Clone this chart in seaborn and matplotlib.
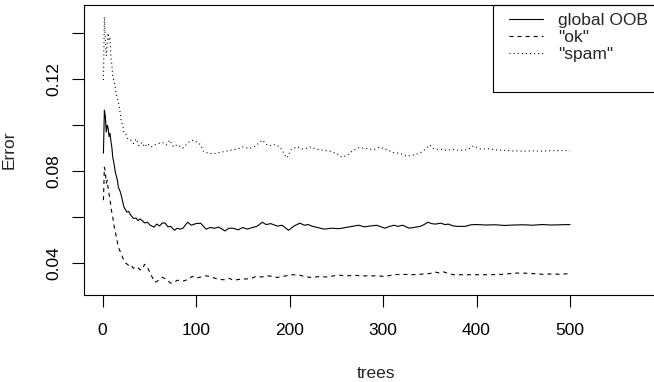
import numpy as np
import pandas as pd
import matplotlib
matplotlib.use("Agg")
import matplotlib.pyplot as plt
from matplotlib.patches import Rectangle
import seaborn as sns

# ---- data ----
oob_trees = [1, 2, 3, 4, 5, 6, 7, 8, 9, 10, 11, 12, 14, 16, 17, 19, 20, 22, 23, 25, 26, 28, 30, 33, 36, 38, 40, 42, 45, 48,
             51, 55, 58, 61, 64, 67, 70, 73, 77, 80, 83, 86, 91, 95, 100, 105, 108, 111, 115, 120, 124, 128, 131, 135, 140,
             145, 150, 155, 160, 165, 171, 175, 180, 187, 192, 199, 205, 211, 216, 220, 224, 230, 237, 245, 253, 260, 267,
             274, 280, 287, 293, 298, 302, 307, 312, 316, 321, 328, 334, 340, 344, 348, 352, 356, 362, 366, 370, 375, 380,
             388, 394, 400, 410, 420, 430, 440, 450, 460, 470, 480, 490, 500]
oob_err = [0.0878, 0.1065, 0.104, 0.097, 0.100, 0.0987, 0.095, 0.0965, 0.093, 0.0904, 0.086, 0.084, 0.079, 0.076, 0.073,
           0.071, 0.0696, 0.066, 0.0643, 0.063, 0.0622, 0.0625, 0.061, 0.0595, 0.0596, 0.0585, 0.0592, 0.0587, 0.0575,
           0.0578, 0.0565, 0.0557, 0.057, 0.0562, 0.0575, 0.0574, 0.0558, 0.056, 0.0543, 0.0552, 0.0548, 0.0552, 0.0578,
           0.0565, 0.0572, 0.0574, 0.056, 0.0548, 0.0555, 0.0552, 0.0557, 0.0548, 0.054, 0.0552, 0.0552, 0.0545, 0.0555,
           0.0548, 0.0555, 0.056, 0.0578, 0.0568, 0.0572, 0.0561, 0.0565, 0.0543, 0.0562, 0.0574, 0.0565, 0.0568, 0.0561,
           0.0555, 0.0548, 0.0552, 0.055, 0.0555, 0.056, 0.0565, 0.0558, 0.0562, 0.0565, 0.0558, 0.0552, 0.056, 0.0565,
           0.056, 0.0565, 0.0552, 0.0556, 0.056, 0.0568, 0.0578, 0.0572, 0.057, 0.0574, 0.0568, 0.057, 0.0562, 0.056,
           0.056, 0.0567, 0.0568, 0.0566, 0.0567, 0.0564, 0.0566, 0.0567, 0.0565, 0.0568, 0.0566, 0.0567, 0.0568]

ok_trees = [1, 2, 3, 4, 5, 6, 7, 8, 9, 10, 11, 12, 14, 16, 17, 19, 20, 22, 23, 25, 28, 30, 33, 36, 38, 40, 42, 45, 48, 52,
            56, 60, 64, 68, 73, 77, 80, 86, 92, 96, 100, 105, 110, 114, 120, 124, 130, 135, 140, 147, 155, 160, 164, 170,
            178, 187, 196, 203, 211, 218, 225, 232, 240, 247, 253, 260, 270, 280, 293, 300, 305, 312, 320, 330, 340, 350,
            355, 360, 365, 370, 375, 390, 400, 415, 430, 440, 450, 460, 470, 480, 490, 500]
ok_err = [0.0674, 0.0817, 0.080, 0.0748, 0.076, 0.0726, 0.070, 0.068, 0.0643, 0.062, 0.060, 0.057, 0.053, 0.049, 0.047,
          0.045, 0.0443, 0.042, 0.0413, 0.040, 0.0391, 0.0395, 0.0378, 0.0385, 0.038, 0.0372, 0.037, 0.0395, 0.0383,
          0.0348, 0.0317, 0.0325, 0.0339, 0.033, 0.0313, 0.0318, 0.0326, 0.0322, 0.033, 0.0343, 0.0335, 0.034, 0.0345,
          0.0343, 0.0335, 0.033, 0.0328, 0.0335, 0.0326, 0.033, 0.0332, 0.0335, 0.0343, 0.034, 0.0345, 0.0338, 0.0345,
          0.035, 0.0348, 0.034, 0.0338, 0.0342, 0.034, 0.0345, 0.0348, 0.0345, 0.0347, 0.0345, 0.0345, 0.0343, 0.0345,
          0.035, 0.0352, 0.035, 0.0352, 0.0355, 0.0362, 0.0358, 0.0362, 0.0355, 0.035, 0.035, 0.035, 0.035, 0.0352,
          0.0357, 0.0357, 0.0355, 0.0352, 0.0353, 0.0352, 0.0355]

spam_trees = [1, 2, 3, 4, 5, 6, 7, 8, 9, 10, 11, 13, 15, 17, 18, 20, 22, 23, 25, 27, 30, 33, 36, 39, 42, 45, 48, 52, 56,
              60, 64, 68, 72, 76, 80, 86, 92, 97, 100, 105, 108, 112, 118, 124, 130, 136, 143, 150, 157, 163, 171, 177,
              184, 190, 197, 202, 208, 215, 222, 230, 238, 245, 251, 256, 262, 268, 275, 283, 290, 296, 304, 312, 318,
              325, 332, 340, 345, 350, 355, 362, 368, 375, 382, 390, 397, 405, 412, 420, 430, 440, 450, 460, 470, 480,
              490, 500]
spam_err = [0.1196, 0.147, 0.138, 0.130, 0.135, 0.140, 0.137, 0.138, 0.130, 0.126, 0.121, 0.118, 0.113, 0.110, 0.108,
            0.102, 0.099, 0.0965, 0.096, 0.094, 0.0935, 0.092, 0.094, 0.091, 0.0925, 0.0905, 0.092, 0.0905, 0.0915,
            0.092, 0.0925, 0.0915, 0.0935, 0.0905, 0.0915, 0.090, 0.0925, 0.0935, 0.0928, 0.0915, 0.0885, 0.088, 0.0875,
            0.088, 0.0885, 0.089, 0.0895, 0.0905, 0.0898, 0.0908, 0.0935, 0.091, 0.0915, 0.0905, 0.0857, 0.0895, 0.0905,
            0.0895, 0.0905, 0.0895, 0.089, 0.0885, 0.0875, 0.086, 0.087, 0.089, 0.0903, 0.0898, 0.0893, 0.0905, 0.0893,
            0.088, 0.0878, 0.0865, 0.087, 0.088, 0.0895, 0.0913, 0.0895, 0.0895, 0.089, 0.0895, 0.089, 0.0893, 0.091,
            0.0895, 0.0898, 0.0893, 0.089, 0.0888, 0.0887, 0.0888, 0.0887, 0.0889, 0.0889, 0.089]

series_labels = ['global OOB', '"ok"', '"spam"']
x_ticks = [0, 100, 200, 300, 400, 500]
y_ticks = [0.04, 0.06, 0.08, 0.10, 0.12, 0.14]
y_ticklabels = ["0.04", "", "0.08", "", "0.12", ""]

# ---- style ----
sns.set_style("ticks")
plt.rcParams['font.family'] = ['Liberation Sans', 'DejaVu Sans']
plt.rcParams['lines.scale_dashes'] = False
FS = 12.5

W, H = 654, 382
fig = plt.figure(figsize=(W / 100, H / 100), dpi=100)
left_px, right_px, top_px, bot_px = 84.0, 668.0, 5.0, 294.5
ax = fig.add_axes([left_px / W, 1 - bot_px / H, (right_px - left_px) / W, (bot_px - top_px) / H])

lw = 0.8
styles = ['-', (0, (2.9, 2.9)), (0, (0.75, 2.2))]
for trees, vals, lab, ls in zip([oob_trees, ok_trees, spam_trees], [oob_err, ok_err, spam_err],
                                series_labels, styles):
    df = pd.DataFrame({'trees': trees, 'Error': vals})
    sns.lineplot(data=df, x='trees', y='Error', ax=ax, color='black', linewidth=lw,
                 linestyle=ls, label=lab, legend=False, estimator=None, sort=False)

# x: tick 0 at ~102.5 px, 93.5 px per 100 trees
px_per_tree = 0.935
x0_px = 102.5
ax.set_xlim((left_px - x0_px) / px_per_tree, (right_px - x0_px) / px_per_tree)
ax.set_ylim(0.0264, 0.1522)
ax.set_xticks(x_ticks)
ax.set_xticklabels([str(t) for t in x_ticks])
ax.set_yticks(y_ticks)
ax.set_yticklabels(y_ticklabels, rotation=90, va='center')
ax.tick_params(axis='both', direction='out', length=8.6, width=0.8, color='black',
               labelsize=FS, labelcolor='black')
ax.tick_params(axis='x', pad=12)
ax.tick_params(axis='y', pad=8)
for s in ax.spines.values():
    s.set_color('black')
    s.set_linewidth(0.8)
    s.set_visible(True)

ax.set_xlabel('trees', fontsize=FS, labelpad=20)
ax.set_ylabel('Error', fontsize=FS, labelpad=21)

leg = ax.legend(loc='upper left', bbox_to_anchor=(509 / W, 1 - 13.0 / H),
                bbox_transform=fig.transFigure, borderaxespad=0.0, borderpad=0.0,
                fontsize=FS, frameon=False, handlelength=1.95, handletextpad=0.9,
                labelspacing=0.1)
fig.add_artist(Rectangle((493 / W, 1 - 92 / H), (720 - 493) / W, (92 - 5) / H,
                         transform=fig.transFigure, fill=False, edgecolor='black',
                         linewidth=0.8, clip_on=False))

fig.savefig('out.png', dpi=100)
